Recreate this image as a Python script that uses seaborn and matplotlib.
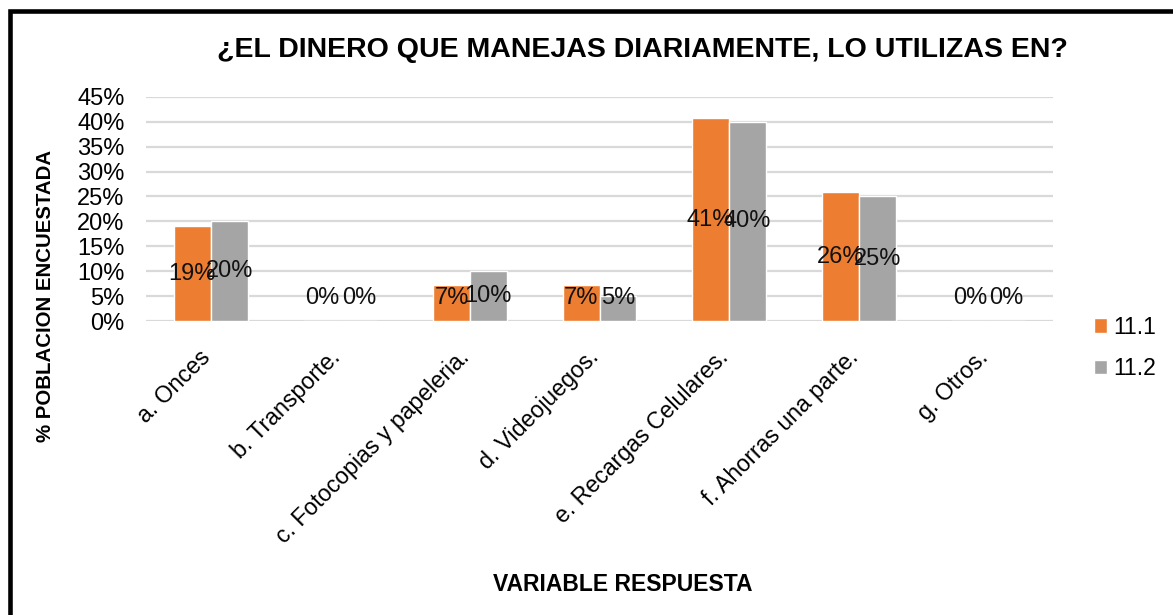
import matplotlib
matplotlib.use("Agg")
import matplotlib.pyplot as plt
import seaborn as sns
import pandas as pd
from matplotlib.patches import Rectangle
from matplotlib.transforms import ScaledTranslation

categorias = ['a. Onces', 'b. Transporte.', 'c. Fotocopias y papeleria.',
              'd. Videojuegos.', 'e. Recargas Celulares.', 'f. Ahorras una parte.',
              'g. Otros.']
serie_11_1 = [0.19, 0.0, 0.073, 0.073, 0.407, 0.259, 0.0]
serie_11_2 = [0.20, 0.0, 0.10, 0.05, 0.40, 0.25, 0.0]
series = ['11.1', '11.2']
colores = ['#ED7D31', '#A5A5A5']
y_ticks = [0, 0.05, 0.10, 0.15, 0.20, 0.25, 0.30, 0.35, 0.40, 0.45]

titulo = '¿EL DINERO QUE MANEJAS DIARIAMENTE, LO UTILIZAS EN?'
eje_y = '% POBLACION ENCUESTADA'
eje_x = 'VARIABLE RESPUESTA'

df = pd.DataFrame({
    'categoria': categorias * 2,
    'valor': serie_11_1 + serie_11_2,
    'serie': [series[0]] * len(categorias) + [series[1]] * len(categorias),
})

sns.set_style('white')
plt.rcParams['font.family'] = ['Liberation Sans', 'DejaVu Sans']
plt.rcParams['text.color'] = 'black'
plt.rcParams['xtick.color'] = 'black'
plt.rcParams['ytick.color'] = 'black'

fig = plt.figure(figsize=(11.73, 6.15), dpi=100)
ax = fig.add_axes([0.1245, 0.478, 0.7732, 0.3645])

sns.barplot(data=df, x='categoria', y='valor', hue='serie', palette=colores,
            width=0.57, gap=0, ax=ax, saturation=1, errorbar=None, zorder=3)

ax.set_ylim(0, 0.45)
ax.set_xlim(-0.5, len(categorias) - 0.5)
ax.set_yticks(y_ticks)
ax.set_yticklabels([f'{t:.0%}' for t in y_ticks], fontsize=17)
ax.yaxis.grid(True, color='#D9D9D9', linewidth=1.6, zorder=0)
ax.set_axisbelow(True)
ax.tick_params(axis='both', length=0, pad=2)
ax.tick_params(axis='y', pad=15.5)
for s in ax.spines.values():
    s.set_visible(False)

ax.set_xticks(range(len(categorias)))
ax.set_xticklabels(categorias, rotation=45, ha='right', rotation_mode='anchor',
                   fontsize=16.7)
desplaza = ScaledTranslation(-12 / 100, -22 / 100, fig.dpi_scale_trans)
for lbl in ax.get_xticklabels():
    lbl.set_transform(lbl.get_transform() + desplaza)
ax.set_xlabel('')
ax.set_ylabel('')

# etiquetas de datos, centradas en la barra
for cont in ax.containers:
    for p in cont:
        h = p.get_height()
        ax.text(p.get_x() + p.get_width() / 2, max(h / 2, 0.047), f'{h:.0%}',
                ha='center', va='center', fontsize=17, color='#111111', zorder=4)

leg = ax.legend(loc='center left', bbox_to_anchor=(1.022, -0.12), frameon=False,
                fontsize=16.5, handlelength=0.6, handleheight=0.6,
                handletextpad=0.25, labelspacing=0.8)

fig.text(0.548, 0.918, titulo, ha='center', va='center', fontsize=20.5,
         fontweight='bold')
fig.text(0.531, 0.049, eje_x, ha='center', va='center', fontsize=16.5,
         fontweight='bold')
fig.text(46 / 1173, 1 - 296 / 615, eje_y, ha='center', va='center',
         rotation=90, fontsize=14.7, fontweight='bold')

fig.patches.append(Rectangle((9.7 / 1173, -0.2), 1.2, 1.2 - 11.3 / 615,
                             transform=fig.transFigure, fill=False,
                             edgecolor='black', linewidth=3.3))

fig.savefig('out.png', dpi=100)
